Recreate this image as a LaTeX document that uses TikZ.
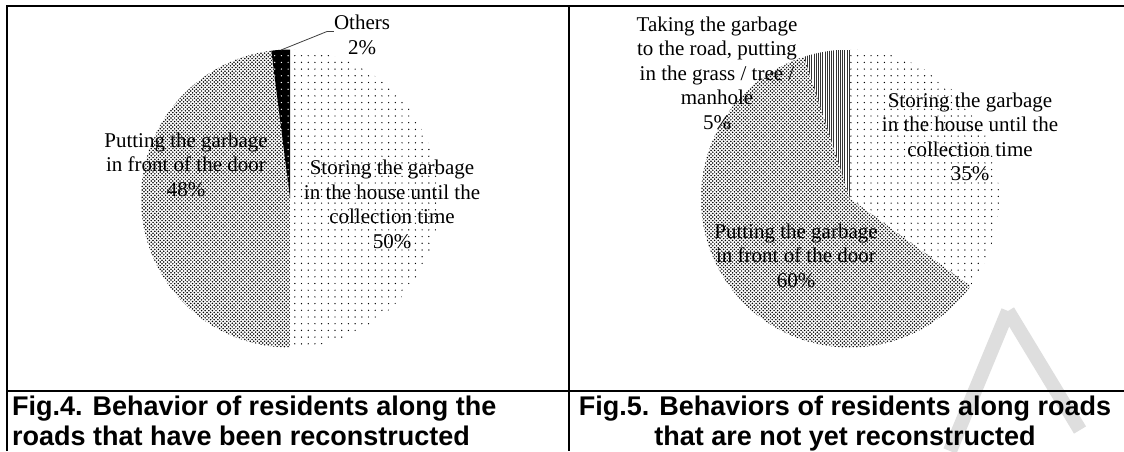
\documentclass[tikz,border=0pt]{standalone}
\usepackage{fontspec}
\setmainfont{Liberation Serif}
\newfontfamily\capfont{Liberation Sans}
\usetikzlibrary{patterns.meta}
\newcommand\pieslice[3]{(#1) -- ++({-(#2)}:149) arc[start angle={-(#2)}, end angle={-(#3)}, radius=149] -- cycle}
\begin{document}
\begin{tikzpicture}[x=1pt,y=-1pt,
  lbl/.style={font=\fontsize{21}{24.5}\selectfont, align=center, inner sep=0pt, anchor=base},
  captext/.style={font=\capfont\bfseries\fontsize{27}{29.5}\selectfont, inner sep=0pt},
  frame/.style={line width=1.7pt, black},
  sparse/.style={pattern={Dots[distance=6.7pt,radius=0.7pt]}, pattern color=black},
  dense/.style={preaction={pattern={Dots[distance=3.6pt,radius=0.85pt]}, pattern color=black},
                pattern={Dots[distance=3.6pt,radius=0.85pt,xshift=1.8pt,yshift=1.8pt]}, pattern color=black},
  blackdots/.style={preaction={fill=black}, pattern={Dots[distance=6.7pt,radius=0.7pt]}, pattern color=white},
  vlines/.style={pattern={Lines[angle=90,distance=2.2pt,line width=0.9pt]}, pattern color=black!80},
  leader/.style={draw=black!75, line width=0.8pt},
  water/.style={draw=black!13, line width=14pt}
]
\path[fill=white] (0,0) rectangle (1124,451);
\useasboundingbox (0,0) rectangle (1124,451);

% watermark
\draw[water] (1008,311) -- (950,451);
\draw[water] (1008,311) -- (1080,430);

% pie 1
\coordinate (c1) at (290,198.5);
\path[sparse] \pieslice{c1}{90}{-90};
\path[dense] \pieslice{c1}{-90}{-262.8};
\path[blackdots] \pieslice{c1}{-262.8}{-270};

% pie 2
\coordinate (c2) at (850,198.5);
\path[sparse] \pieslice{c2}{90}{-36};
\path[dense] \pieslice{c2}{-36}{-252};
\path[vlines] \pieslice{c2}{-252}{-270};

% labels pie 1 (anchor = baseline of last line)
\node[lbl] (p1put) at (186,196) {Putting the garbage\\in front of the door\\48\%};
\node[lbl] (p1sto) at (392,248) {Storing the garbage\\in the house until the\\collection time\\50\%};
\node[lbl] (p1oth) at (362,54) {Others\\2\%};
\coordinate (o1) at (281,50);
\coordinate (o2) at (327,31.5);
\draw[leader] (o1) -- (o2) -- (o2 -| p1oth.west);

% labels pie 2
\node[lbl] (p2take) at (717,129) {Taking the garbage\\to the road, putting\\in the grass / tree /\\manhole\\5\%};
\node[lbl] (p2sto) at (970,180.5) {Storing the garbage\\in the house until the\\collection time\\35\%};
\node[lbl] (p2put) at (796,287) {Putting the garbage\\in front of the door\\60\%};

% frame
\draw[frame] (6.7,451) -- (6.7,5.7) -- (1124,5.7);
\draw[frame] (569,5.7) -- (569,451);
\draw[frame] (6.7,391) -- (1124,391);

% captions (anchor = baseline of last line)
\node[captext, anchor=base west, align=left] (cap4) at (12,445) {Fig.4. Behavior of residents along the\\roads that have been reconstructed};
\node[captext, anchor=base, align=center] (cap5) at (845,445) {Fig.5. Behaviors of residents along roads\\that are not yet reconstructed};
\end{tikzpicture}
\end{document}
